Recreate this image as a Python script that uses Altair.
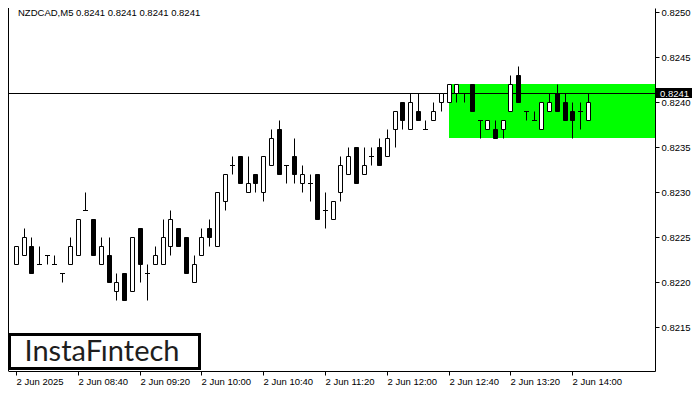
import altair as alt
import pandas as pd

# ---- data (NZDCAD, M5) ----
opens = [0.8222, 0.8223, 0.8224, 0.8222, 0.8223, 0.8222, 0.8221, 0.8222, 0.8223, 0.8228,
         0.8227, 0.8222, 0.8223, 0.8219, 0.8221, 0.8219, 0.8226, 0.8221, 0.8222, 0.8222,
         0.8224, 0.8226, 0.8225, 0.8220, 0.8223, 0.8226, 0.8224, 0.8229, 0.8233, 0.8234,
         0.8230, 0.8232, 0.8230, 0.8233, 0.8237, 0.8233, 0.8234, 0.8231, 0.8231, 0.8232,
         0.8228, 0.8227, 0.8230, 0.8232, 0.8235, 0.8232, 0.8234, 0.8235, 0.8234, 0.8237,
         0.8240, 0.8237, 0.8239, 0.8237, 0.8238, 0.8240, 0.8240, 0.8241, 0.8241, 0.8242,
         0.8238, 0.8237, 0.8237, 0.8237, 0.8239, 0.8243, 0.8239, 0.8238, 0.8237, 0.8239,
         0.8241, 0.8240, 0.8239, 0.8239, 0.8238, 0.8241]
highs = [0.8224, 0.8226, 0.8225, 0.8224, 0.8223, 0.8223, 0.8221, 0.8225, 0.8227, 0.8230,
         0.8227, 0.8225, 0.8225, 0.8221, 0.8221, 0.8225, 0.8226, 0.8222, 0.8224, 0.8227,
         0.8228, 0.8226, 0.8225, 0.8223, 0.8226, 0.8227, 0.8230, 0.8232, 0.8234, 0.8234,
         0.8234, 0.8232, 0.8234, 0.8237, 0.8238, 0.8233, 0.8236, 0.8233, 0.8232, 0.8232,
         0.8230, 0.8229, 0.8234, 0.8235, 0.8235, 0.8235, 0.8235, 0.8236, 0.8237, 0.8239,
         0.8240, 0.8241, 0.8241, 0.8238, 0.8240, 0.8241, 0.8242, 0.8242, 0.8241, 0.8242,
         0.8238, 0.8238, 0.8238, 0.8238, 0.8243, 0.8244, 0.8239, 0.8239, 0.8240, 0.8241,
         0.8242, 0.8241, 0.8240, 0.8240, 0.8241, 0.8241]
lows = [0.8222, 0.8223, 0.8221, 0.8222, 0.8222, 0.8222, 0.8220, 0.8222, 0.8223, 0.8228,
        0.8223, 0.8222, 0.8220, 0.8218, 0.8218, 0.8219, 0.8220, 0.8218, 0.8222, 0.8222,
        0.8223, 0.8224, 0.8221, 0.8220, 0.8223, 0.8224, 0.8224, 0.8228, 0.8232, 0.8231,
        0.8230, 0.8230, 0.8229, 0.8233, 0.8232, 0.8231, 0.8231, 0.8230, 0.8229, 0.8227,
        0.8226, 0.8227, 0.8229, 0.8232, 0.8231, 0.8232, 0.8233, 0.8233, 0.8234, 0.8235,
        0.8237, 0.8237, 0.8238, 0.8237, 0.8238, 0.8239, 0.8240, 0.8240, 0.8240, 0.8239,
        0.8236, 0.8237, 0.8236, 0.8236, 0.8239, 0.8240, 0.8238, 0.8238, 0.8237, 0.8239,
        0.8239, 0.8238, 0.8236, 0.8237, 0.8238, 0.8241]
closes = [0.8224, 0.8225, 0.8221, 0.8222, 0.8223, 0.8222, 0.8221, 0.8224, 0.8227, 0.8228,
          0.8223, 0.8224, 0.8220, 0.8220, 0.8218, 0.8225, 0.8222, 0.8221, 0.8223, 0.8225,
          0.8227, 0.8224, 0.8221, 0.8222, 0.8225, 0.8225, 0.8230, 0.8232, 0.8233, 0.8231,
          0.8231, 0.8231, 0.8234, 0.8236, 0.8232, 0.8233, 0.8232, 0.8232, 0.8231, 0.8227,
          0.8228, 0.8229, 0.8233, 0.8234, 0.8231, 0.8233, 0.8234, 0.8233, 0.8236, 0.8239,
          0.8238, 0.8240, 0.8238, 0.8237, 0.8239, 0.8241, 0.8242, 0.8242, 0.8241, 0.8239,
          0.8238, 0.8238, 0.8236, 0.8238, 0.8242, 0.8240, 0.8239, 0.8238, 0.8240, 0.8240,
          0.8239, 0.8238, 0.8238, 0.8239, 0.8240, 0.8241]

time_labels = ["2 Jun 2025", "2 Jun 08:40", "2 Jun 09:20", "2 Jun 10:00", "2 Jun 10:40",
               "2 Jun 11:20", "2 Jun 12:00", "2 Jun 12:40", "2 Jun 13:20", "2 Jun 14:00"]
bars_per_label = 8
price_ticks = [0.8215, 0.8220, 0.8225, 0.8230, 0.8235, 0.8240, 0.8245, 0.8250]
last_price = [0.8241]
zone_low = [0.8236]
zone_high = [0.8242]
zone_start_bar = [56]
header_text = "NZDCAD,M5  0.8241 0.8241 0.8241 0.8241"
brand_text = "InstaF\u0131ntech"

# ---- layout ----
W, H = 647, 363
FONT = "Liberation Sans"
FS = 9.5

df = pd.DataFrame({"i": list(range(len(opens))), "open": opens, "high": highs,
                   "low": lows, "close": closes})
df["dir"] = ["up" if c > o else ("down" if c < o else "flat") for o, c in zip(opens, closes)]
bodies = df[df["dir"] != "flat"]
dojis = df[df["dir"] == "flat"]

zone_df = pd.DataFrame({"start": zone_start_bar, "lo": zone_low, "hi": zone_high})
last_df = pd.DataFrame({"price": last_price, "label": [f"{p:.4f}" for p in last_price]})

xs = alt.Scale(domain=[-0.3694, 82.051], nice=False, zero=False, round=True)
ys = alt.Scale(domain=[0.8210113, 0.8250426], nice=False, zero=False, round=True)

arr = "[" + ",".join(f"'{t}'" for t in time_labels) + "]"
xaxis = alt.Axis(values=list(range(0, bars_per_label * len(time_labels), bars_per_label)),
                 labelExpr=f"{arr}[round(datum.value/{bars_per_label})]",
                 labelAlign="left", labelBaseline="top", labelPadding=1, tickSize=4,
                 title=None, grid=False, labelFont=FONT, labelFontSize=FS, labelColor="#000",
                 domainColor="#000", tickColor="#000", labelFlush=False, labelOverlap=False)
yaxis = alt.Axis(orient="right", values=price_ticks, format=".4f", tickSize=4, labelPadding=2,
                 title=None, grid=False, labelFont=FONT, labelFontSize=FS, labelColor="#000",
                 domainColor="#000", tickColor="#000", labelOverlap=False, labelFlush=False)

zone = alt.Chart(zone_df).mark_rect(color="#00FF00").encode(
    x=alt.X("start:Q", scale=xs, axis=xaxis),
    x2=alt.value(W),
    y=alt.Y("lo:Q", scale=ys, axis=yaxis),
    y2="hi:Q",
)

wicks = alt.Chart(df).mark_rule(color="#000", strokeWidth=1, xOffset=0.5, x2Offset=0.5,
                                yOffset=0.5, y2Offset=0.5).encode(
    x=alt.X("i:Q", scale=xs, axis=xaxis),
    y=alt.Y("low:Q", scale=ys, axis=yaxis),
    y2="high:Q",
)

body = alt.Chart(bodies).mark_bar(size=4, stroke="#000", strokeWidth=1, xOffset=0.5,
                                  yOffset=0.5, y2Offset=0.5).encode(
    x=alt.X("i:Q", scale=xs, axis=xaxis),
    y=alt.Y("open:Q", scale=ys, axis=yaxis),
    y2="close:Q",
    fill=alt.Fill("dir:N", scale=alt.Scale(domain=["up", "down"], range=["#FFFFFF", "#000000"]),
                  legend=None),
)

doji = alt.Chart(dojis).mark_tick(orient="horizontal", size=5, thickness=1, color="#000",
                                  opacity=1, xOffset=0.5, yOffset=0.5).encode(
    x=alt.X("i:Q", scale=xs, axis=xaxis),
    y=alt.Y("open:Q", scale=ys, axis=yaxis),
)

bid_line = alt.Chart(last_df).mark_rule(color="#000", strokeWidth=1, yOffset=0.5).encode(
    y=alt.Y("price:Q", scale=ys, axis=yaxis),
)

bid_box = alt.Chart(last_df).mark_rule(color="#000", strokeWidth=10, strokeCap="butt").encode(
    x=alt.value(W + 1), x2=alt.value(W + 37),
    y=alt.Y("price:Q", scale=ys, axis=yaxis),
)

bid_text = alt.Chart(last_df).mark_text(color="#FFF", font=FONT, fontSize=FS, align="left",
                                        baseline="middle", yOffset=0.5).encode(
    x=alt.value(W + 5),
    y=alt.Y("price:Q", scale=ys, axis=yaxis),
    text="label:N",
)

left_border = alt.Chart(last_df).mark_rule(color="#000", strokeWidth=1).encode(
    x=alt.value(0.5), y=alt.value(0), y2=alt.value(H),
)

header = alt.Chart(last_df).mark_text(color="#000", font=FONT, fontSize=FS, align="left",
                                      baseline="middle").encode(
    x=alt.value(10), y=alt.value(5), text=alt.value(header_text),
)

logo_box = alt.Chart(last_df).mark_rect(fill="#FFF", stroke="#000", strokeWidth=3).encode(
    x=alt.value(1.5), x2=alt.value(191.5), y=alt.value(326.5), y2=alt.value(360.5),
)

logo_text = alt.Chart(last_df).mark_text(color="#1e1e1e", font="Lato", fontSize=29,
                                         align="center", baseline="alphabetic").encode(
    x=alt.value(94), y=alt.value(353), text=alt.value(brand_text),
)

chart = alt.layer(
    zone, bid_line, wicks, body, doji, bid_box, bid_text, left_border, header, logo_box, logo_text
).properties(
    width=W, height=H,
    autosize=alt.AutoSizeParams(type="none"),
    padding={"left": 0, "top": 0, "right": 37, "bottom": 17},
    background="#FFFFFF",
).configure_view(stroke=None)

chart.save("out.html", embed_options={"renderer": "svg", "actions": False})
